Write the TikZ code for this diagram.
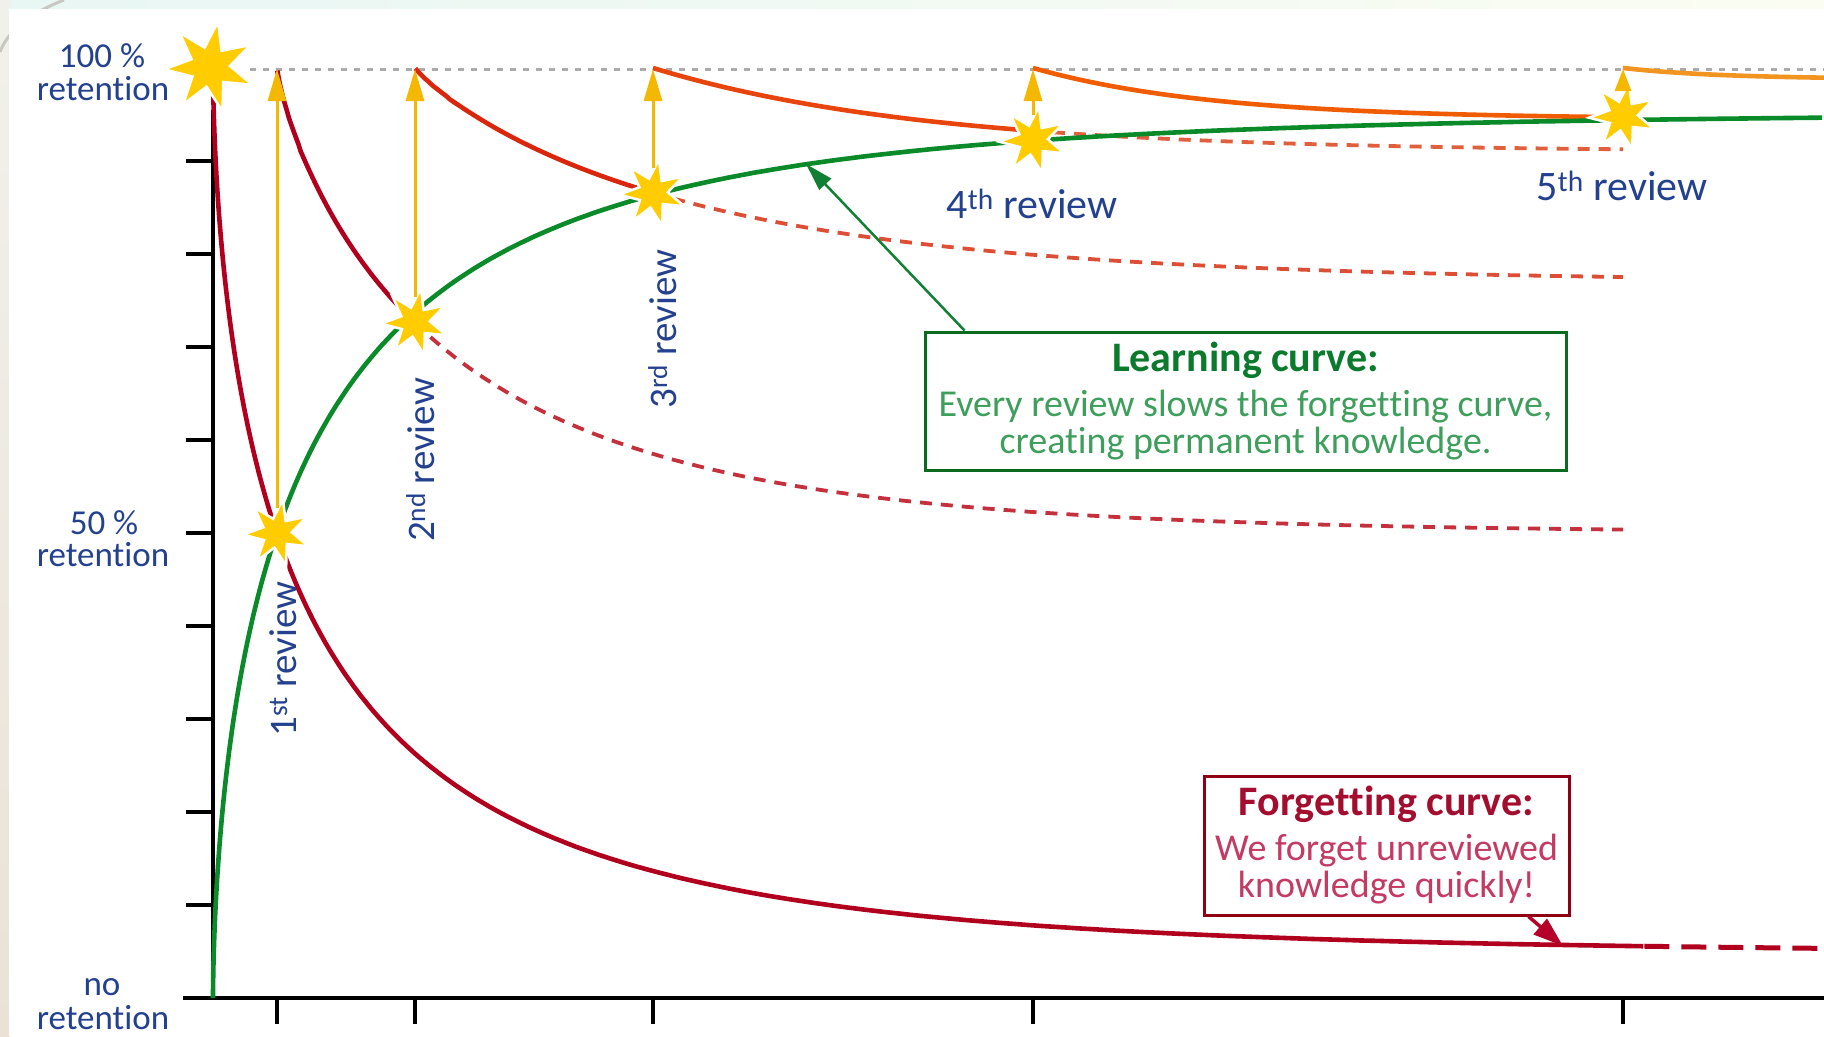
\documentclass[tikz,border=0pt]{standalone}
\usepackage{fontspec}
\setmainfont{Carlito}[Ligatures={NoCommon,NoContextual,NoRequired}]
\usetikzlibrary{arrows.meta,shapes.geometric}
\newcommand{\nolig}{\kern0pt }
\definecolor{lblue}{HTML}{23418F}
\definecolor{cgreen}{HTML}{0B8A2A}
\definecolor{cred}{HTML}{B0001E}
\definecolor{cred3}{HTML}{D9260C}
\definecolor{corg4}{HTML}{E8440E}
\definecolor{corg5}{HTML}{F05C02}
\definecolor{corg6}{HTML}{F29420}
\definecolor{dash2}{HTML}{C4303C}
\definecolor{dash3}{HTML}{DD4E36}
\definecolor{dash4}{HTML}{E0603E}
\definecolor{starY}{HTML}{FFCC00}
\definecolor{arrY}{HTML}{F5B800}
\definecolor{lgbox}{HTML}{0A6A1E}
\definecolor{lgtitle}{HTML}{0B7A2C}
\definecolor{lgtext}{HTML}{3E9E5C}
\definecolor{garr}{HTML}{128034}
\definecolor{fgbox}{HTML}{8E0012}
\definecolor{fgtitle}{HTML}{A30D2E}
\definecolor{fgtext}{HTML}{C43A62}
\definecolor{rarr}{HTML}{B5002A}
\definecolor{dotgray}{HTML}{ABABAB}
\begin{document}
\begin{tikzpicture}[x=1bp,y=-1bp,
  axisline/.style={line width=3.5bp, black},
  curve/.style={line width=4.6bp, line join=round},
  dcurve/.style={line width=3.8bp, dash pattern=on 12bp off 9bp},
  yarrow/.style={arrY, line width=3bp, -{Triangle[length=32bp,width=18bp]}},
  starnode/.style={star, star points=7, star point ratio=2.3, fill=starY, draw=white, line width=2.5bp, inner sep=0pt, shape border rotate=-10, minimum size=68bp},
  bigstar/.style={starnode, minimum size=92bp},
  lbl/.style={text=lblue, font=\fontsize{35bp}{35bp}\selectfont, inner sep=0pt, anchor=base},
  revh/.style={text=lblue, font=\fontsize{42bp}{42bp}\selectfont, inner sep=0pt, anchor=base},
  revv/.style={text=lblue, font=\fontsize{39bp}{39bp}\selectfont, inner sep=0pt, anchor=base, rotate=90},
  infobox/.style={line width=3bp, fill=white, inner sep=0pt, align=center, font=\fontsize{38bp}{37bp}\selectfont},
  garrow/.style={garr, line width=2.5bp, -{Triangle[length=28bp,width=16bp]}},
  rarrow/.style={rarr, line width=3.5bp, -{Triangle[length=30bp,width=20bp]}}
]
\useasboundingbox (0,0) rectangle (1824,1036);
% background frame
\shade[left color={rgb,255:red,232;green,246;blue,244}, middle color={rgb,255:red,207;green,226;blue,234}, right color={rgb,255:red,251;green,253;blue,242}] (0,0) rectangle (1824,10);
\shade[top color={rgb,255:red,241;green,241;blue,236}, middle color={rgb,255:red,238;green,247;blue,248}, bottom color={rgb,255:red,235;green,226;blue,213}] (0,0) rectangle (10,1036);
\draw[color={rgb,255:red,200;green,200;blue,194}, line width=3bp] (0,52) .. controls (6,35) and (25,15) .. (64,0);
\fill[white] (9,9) rectangle (1824,1036);

% 100% reference line
\draw[dotgray, line width=3bp, dash pattern=on 6bp off 7bp] (250,69) -- (1824,69);

% axes
\draw[axisline] (213,110) -- (213,998);
\draw[axisline] (183,998) -- (1824,998);
\foreach \yy in {161,254,347,440,533,626,719,812,905}
  \draw[axisline] (186,\yy) -- (213,\yy);
\foreach \xx in {277,415,653,1033,1623}
  \draw[axisline] (\xx,998) -- (\xx,1024);

% dashed continuations
\draw[dcurve, dash2] plot[domain=138:1346, samples=90, variable=\t] ({277+\t},{533-465*exp(-pow(\t/184,0.8))});
\draw[dcurve, dash3] plot[domain=238:1208, samples=80, variable=\t] ({415+\t},{281.9-213.9*exp(-pow(\t/276,0.9))});
\draw[dcurve, dash4] plot[domain=379:970, samples=50, variable=\t] ({653+\t},{151.7-83.7*exp(-\t/274)});
\draw[cred, line width=5bp, dash pattern=on 25bp off 12bp] plot[domain=11.27:11.72, samples=20, variable=\u] ({213+\u*\u*\u},{953.36-885.36*exp(-pow(\u,1.8)/16.23)});

% forgetting curves
\draw[curve, cred] plot[domain=0.02:11.27, samples=240, variable=\u] ({213+\u*\u*\u},{953.36-885.36*exp(-pow(\u,1.8)/16.23)});
\draw[curve, cred] plot[domain=0.3:138, samples=60, variable=\t] ({277+\t},{533-465*exp(-pow(\t/184,0.8))});
\draw[curve, cred3] plot[domain=0.3:238, samples=70, variable=\t] ({415+\t},{281.9-213.9*exp(-pow(\t/276,0.9))});
\draw[curve, corg4] plot[domain=0:379, samples=60, variable=\t] ({653+\t},{151.7-83.7*exp(-\t/274)});
\draw[curve, corg5] plot[domain=0:590, samples=70, variable=\t] ({1033+\t},{119.15-51.15*exp(-\t/180)});
\draw[curve, corg6] plot[domain=0:201, samples=40, variable=\t] ({1623+\t},{79.16-11.16*exp(-\t/100)});

% learning curve
\draw[curve, cgreen] plot[domain=0.02:11.72, samples=260, variable=\u] ({213+\u*\u*\u},{998-885.36*(1-exp(-pow(\u,1.8)/16.23))});

% stars
\node[bigstar] (S0) at (210,67) {};
\node[starnode] (S1) at (277,533) {};
\node[starnode] (S2) at (415,322) {};
\node[starnode] (S3) at (653,193) {};
\node[starnode] (S4) at (1033,140) {};
\node[starnode] (S5) at (1623,116) {};

% review arrows
\coordinate (T1) at (277,69);
\coordinate (T2) at (415,69);
\coordinate (T3) at (653,69);
\coordinate (T4) at (1033,69);
\coordinate (T5) at (1623,69);
\draw[yarrow] (S1) -- (T1);
\draw[yarrow] (S2) -- (T2);
\draw[yarrow] (S3) -- (T3);
\draw[yarrow] (S4) -- (T4);
\draw[arrY, line width=3bp, -{Triangle[length=22bp,width=16bp]}] (S5) -- (T5);

% axis labels
\node[lbl] (p100) at (102,67) {100 \%};
\node[lbl] (p100r) at (103,100) {retent\nolig ion};
\node[lbl] (p50) at (104,534) {50 \%};
\node[lbl] (p50r) at (103,566) {retent\nolig ion};
\node[lbl] (p0) at (102,995) {no};
\node[lbl] (p0r) at (103,1029) {retent\nolig ion};

% review labels
\node[revv] (r1) at (296,659) {1\textsuperscript{st} review};
\node[revv] (r2) at (434,460) {2\textsuperscript{nd} review};
\node[revv] (r3) at (676,329) {3\textsuperscript{rd} review};
\node[revh] (r4) at (1032,218) {4\textsuperscript{th} review};
\node[revh] (r5) at (1622,200) {5\textsuperscript{th} review};

% info boxes
\node[infobox, draw=lgbox, text=lgtext, minimum width=641bp, minimum height=138bp] (LB) at (1245.5,401)
  {{\color{lgtitle}\fontsize{42bp}{42bp}\selectfont\bfseries Learning curve:}\\[8bp]Every review slows the forget\nolig t\nolig ing curve,\\creat\nolig ing permanent knowledge.};
\node[infobox, draw=fgbox, text=fgtext, minimum width=365bp, minimum height=139bp] (FB) at (1386.5,845.5)
  {{\color{fgtitle}\fontsize{42bp}{42bp}\selectfont\bfseries Forget\nolig t\nolig ing curve:}\\[8bp]We forget unreviewed\\knowledge quickly!};

\coordinate (gtip) at (806,164);
\coordinate (rtip) at (1563,946);
\draw[garrow] ([xshift=41bp]LB.north west) -- (gtip);
\draw[rarrow] ([xshift=-42bp]FB.south east) -- (rtip);
\end{tikzpicture}
\end{document}
